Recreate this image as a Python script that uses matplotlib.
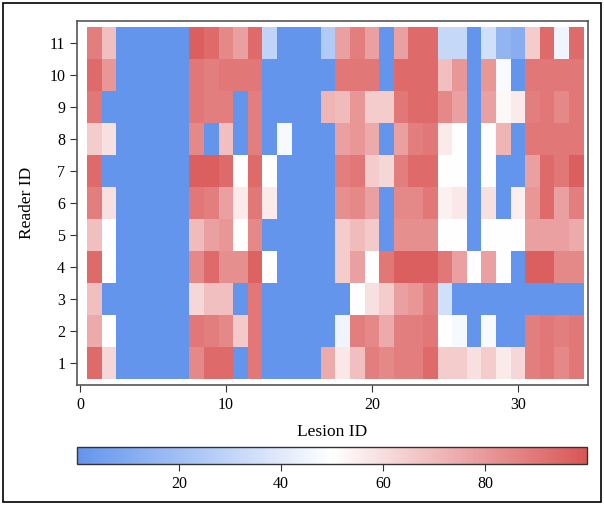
import numpy as np
import matplotlib
matplotlib.use('Agg')
import matplotlib.pyplot as plt
from matplotlib.colors import LinearSegmentedColormap
from matplotlib.patches import Rectangle

plt.rcParams['font.family'] = ['Liberation Serif', 'DejaVu Serif']

# Lesion and reader ids
lesions = np.arange(1, 35)
readers = np.arange(1, 12)

# Scores per reader (rows: reader 1..11, columns: lesion 1..34)
r1 = [94, 62, 0, 0, 0, 0, 0, 85, 94, 94, 0, 90, 0, 0, 0, 0, 75, 57, 69, 88, 85, 88, 88, 94, 65, 65, 59, 65, 56, 62, 88, 90, 85, 90]
r2 = [75, 50, 0, 0, 0, 0, 0, 90, 88, 85, 66, 90, 0, 0, 0, 0, 0, 45, 88, 85, 75, 88, 88, 90, 50, 47, 0, 48, 0, 0, 88, 90, 88, 90]
r3 = [69, 0, 0, 0, 0, 0, 0, 62, 69, 69, 0, 90, 0, 0, 0, 0, 0, 0, 50, 59, 65, 78, 81, 88, 35, 0, 0, 0, 0, 0, 0, 0, 0, 0]
r4 = [94, 50, 0, 0, 0, 0, 0, 85, 94, 83, 83, 96, 50, 0, 0, 0, 0, 65, 78, 50, 90, 97, 97, 97, 90, 78, 50, 78, 50, 0, 97, 97, 85, 85]
r5 = [69, 50, 0, 0, 0, 0, 0, 70, 78, 81, 50, 85, 0, 0, 0, 0, 0, 65, 70, 66, 0, 83, 83, 83, 50, 50, 0, 50, 50, 50, 78, 78, 78, 75]
r6 = [88, 59, 0, 0, 0, 0, 0, 90, 88, 78, 56, 90, 56, 0, 0, 0, 0, 83, 85, 78, 0, 85, 85, 90, 54, 57, 0, 59, 0, 55, 81, 94, 78, 88]
r7 = [94, 0, 0, 0, 0, 0, 0, 97, 97, 94, 50, 94, 50, 0, 0, 0, 0, 88, 90, 65, 62, 88, 94, 94, 50, 50, 0, 50, 0, 0, 78, 94, 90, 97]
r8 = [65, 59, 0, 0, 0, 0, 0, 85, 0, 69, 0, 88, 0, 47, 0, 0, 0, 78, 81, 75, 0, 78, 88, 90, 56, 50, 0, 50, 72, 0, 90, 90, 90, 90]
r9 = [90, 0, 0, 0, 0, 0, 0, 90, 88, 88, 0, 88, 0, 0, 0, 0, 72, 70, 81, 65, 65, 90, 94, 94, 85, 78, 0, 78, 52, 56, 88, 90, 85, 90]
r10 = [94, 81, 0, 0, 0, 0, 0, 90, 88, 90, 90, 90, 0, 0, 0, 0, 0, 90, 90, 90, 0, 94, 94, 94, 69, 81, 0, 81, 48, 0, 90, 90, 90, 90]
r11 = [88, 69, 0, 0, 0, 0, 0, 97, 94, 85, 78, 94, 30, 0, 0, 0, 25, 78, 88, 78, 0, 78, 94, 94, 32, 32, 0, 35, 15, 12, 65, 94, 45, 94]

x_ticks = [0, 10, 20, 30]
cbar_ticks = [20, 40, 60, 80]

scores = np.array([r1, r2, r3, r4, r5, r6, r7, r8, r9, r10, r11])

cmap = LinearSegmentedColormap.from_list('bwr_soft', ['#6495ED', '#FFFFFF', '#DA5656'])

fig = plt.figure(figsize=(6.04, 5.05), dpi=100)
W, H = 604, 505
ax = fig.add_axes([77 / W, 1 - 385 / H, 511 / W, 364 / H])

x_edges = np.append(lesions - 0.5, lesions[-1] + 0.5)
y_edges = np.append(readers - 0.5, readers[-1] + 0.5)
mesh = ax.pcolormesh(x_edges, y_edges, scores, cmap=cmap, vmin=0, vmax=100)

ax.set_xlim(-0.2, 34.8)
ax.set_ylim(0.31, 11.69)
ax.set_xticks(x_ticks)
ax.set_yticks(readers)
ax.tick_params(labelsize=11.5, length=5, color='#333333')
ax.set_xlabel('Lesion ID', fontsize=12.5, labelpad=8)
ax.set_ylabel('Reader ID', fontsize=12.5, labelpad=10)
for s in ax.spines.values():
    s.set_color('#555555')
    s.set_linewidth(1.2)

cax = fig.add_axes([77 / W, 1 - 464 / H, 510 / W, 17 / H])
cb = fig.colorbar(mesh, cax=cax, orientation='horizontal', ticks=cbar_ticks)
cb.ax.tick_params(labelsize=11.5, length=5, color='#333333')
cb.outline.set_edgecolor('#333333')
cb.outline.set_linewidth(1.0)

# frame around the whole figure
fig.patches.append(Rectangle((3 / W, 3 / H), 1 - 6 / W, 1 - 6 / H, transform=fig.transFigure,
                             fill=False, edgecolor='black', linewidth=1.2))

fig.savefig('out.png', dpi=100)
